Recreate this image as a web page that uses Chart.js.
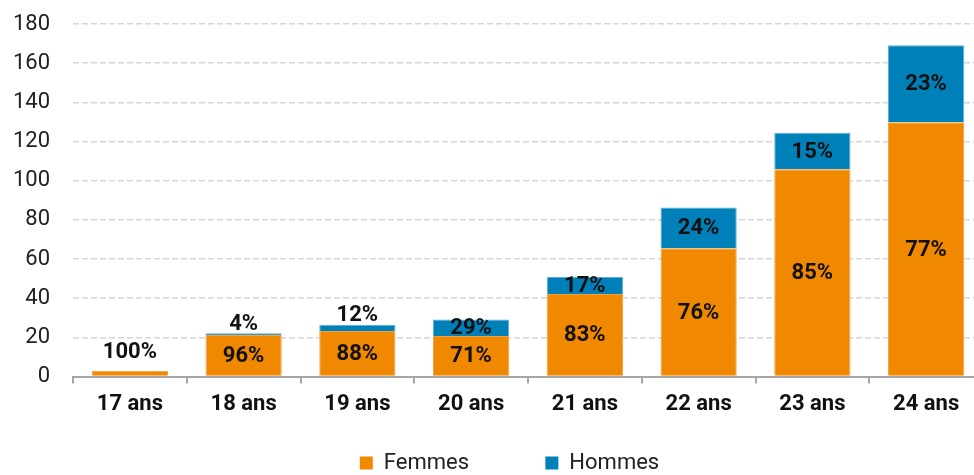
<!DOCTYPE html>
<html lang="fr">
<head>
<meta charset="utf-8">
<title>Femmes / Hommes par âge</title>
<script src="https://cdn.jsdelivr.net/npm/chart.js@4.4.1/dist/chart.umd.min.js"></script>
<style>
    html, body { margin: 0; padding: 0; background: #fff; overflow: hidden; }
    #wrap { position: relative; width: 990px; height: 484px; }
</style>
</head>
<body>
<div id="wrap"><canvas id="chart"></canvas></div>
<script>
// categories (âge)
const ages = ['17 ans', '18 ans', '19 ans', '20 ans', '21 ans', '22 ans', '23 ans', '24 ans'];
// effectifs
const femmes = [3, 21.2, 23.3, 20.7, 42.2, 65.5, 105.8, 129.8];
const hommes = [0, 0.9, 3.2, 8.4, 8.6, 20.8, 18.7, 39.4];
// pourcentages affichés
const pctFemmes = [100, 96, 88, 71, 83, 76, 85, 77];
const pctHommes = [null, 4, 12, 29, 17, 24, 15, 23];
const yTicks = [0, 20, 40, 60, 80, 100, 120, 140, 160, 180];

const ORANGE = '#f08800';
const BLUE = '#0080b9';
const FONT = 'Roboto';

// draws the % labels, inside the segment when it is tall enough, above the bar otherwise
const pctLabels = {
    id: 'pctLabels',
    afterLayout(chart) {
        // let the y tick labels spill left of the (narrow) axis box without being clipped
        chart.scales.y.left = 0;
    },
    afterDatasetsDraw(chart) {
        const ctx = chart.ctx;
        const metaF = chart.getDatasetMeta(0);
        const metaH = chart.getDatasetMeta(1);
        ctx.save();
        ctx.font = `bold 22px ${FONT}`;
        ctx.fillStyle = '#111';
        ctx.textAlign = 'center';
        ctx.textBaseline = 'middle';
        metaF.data.forEach((bar, i) => {
            const barH = metaH.data[i];
            const topAll = Math.min(bar.y, barH.y);
            // femmes
            const hF = bar.base - bar.y;
            const yF = hF > 24 ? (bar.y + bar.base) / 2 : topAll - 19;
            ctx.fillText(pctFemmes[i] + '%', bar.x, yF + 1);
            // hommes
            if (pctHommes[i] !== null) {
                const hH = barH.base - barH.y;
                const yH = hH > 12 ? (barH.y + barH.base) / 2 : barH.y - 10;
                ctx.fillText(pctHommes[i] + '%', barH.x, yH + 1);
            }
        });
        ctx.restore();
    }
};

new Chart(document.getElementById('chart').getContext('2d'), {
    type: 'bar',
    data: {
        labels: ages,
        datasets: [
            { label: 'Femmes', data: femmes, backgroundColor: ORANGE, borderColor: '#f3a040', borderWidth: 1, barPercentage: 0.67, categoryPercentage: 1 },
            { label: 'Hommes', data: hommes, backgroundColor: BLUE, borderColor: '#5aaed6', borderWidth: 1, barPercentage: 0.67, categoryPercentage: 1 }
        ]
    },
    options: {
        responsive: true,
        maintainAspectRatio: false,
        animation: false,
        layout: { padding: { left: 36, right: 7, top: 24, bottom: 0 } },
        plugins: {
            tooltip: { enabled: false },
            legend: {
                position: 'bottom',
                labels: {
                    font: { family: FONT, size: 22 },
                    color: '#222',
                    boxWidth: 13,
                    boxHeight: 13,
                    padding: 26,
                    generateLabels(chart) {
                        const items = Chart.defaults.plugins.legend.labels.generateLabels(chart);
                        items.forEach(it => { it.lineWidth = 0; });
                        items[0].text += '\u2003\u2003 ';
                        return items;
                    }
                }
            }
        },
        scales: {
            x: {
                stacked: true,
                grid: { offset: true, drawOnChartArea: false, drawTicks: true, tickLength: 7, color: '#a6a6a6', lineWidth: 2 },
                border: { color: '#a6a6a6', width: 2 },
                ticks: { font: { family: FONT, size: 22, weight: 'bold' }, color: '#111', padding: 8 }
            },
            y: {
                stacked: true,
                min: 0,
                max: 180,
                afterBuildTicks(scale) { scale.ticks = yTicks.map(v => ({ value: v })); },
                afterFit(scale) { scale.width = 37; scale.paddingTop = 0; scale.paddingBottom = 0; },
                grid: { color: '#d6d6d6', lineWidth: 1.5, drawTicks: false },
                border: { display: false, dash: [6, 3] },
                ticks: { font: { family: FONT, size: 22 }, color: '#222', padding: 23 }
            }
        }
    },
    plugins: [pctLabels]
});
</script>
</body>
</html>
